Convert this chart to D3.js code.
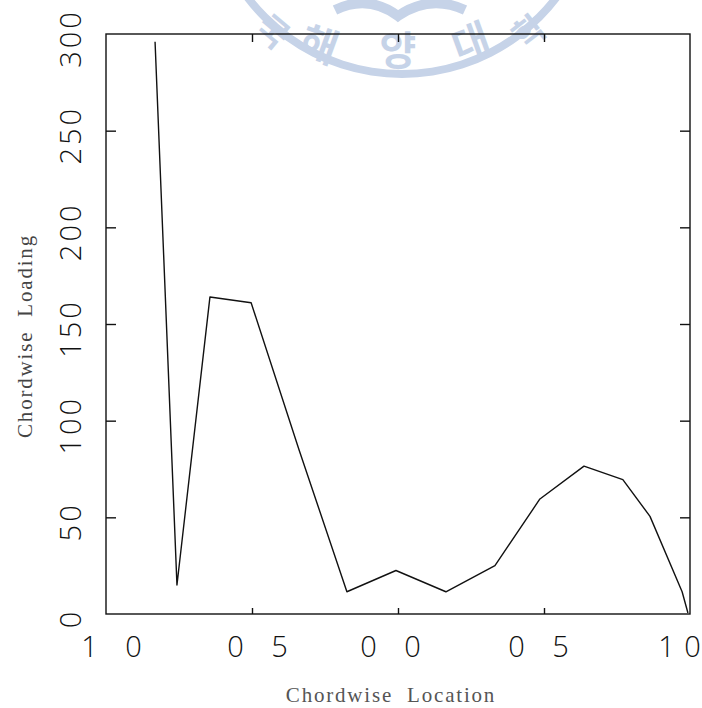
<!DOCTYPE html>
<html>
<head>
<meta charset="utf-8">
<script src="https://cdn.jsdelivr.net/npm/d3@7"></script>
<style>
  html, body { margin: 0; padding: 0; background: #fff; }
  svg { display: block; }
</style>
</head>
<body>
<svg id="chart" width="702" height="708"></svg>
<script>
// ---- data ----
const xValues = [-0.832, -0.757, -0.644, -0.503, -0.339, -0.175, -0.007, 0.164, 0.332, 0.486, 0.637, 0.770, 0.863, 0.973, 0.993];
const loading = [296, 15, 164, 161, 85, 11.5, 22.5, 11.5, 25, 59.5, 76.5, 69.5, 50.5, 11.5, 0.5];
const xTickValues = [-1, -0.5, 0, 0.5, 1];
const xTickLabels = ["1 0", "0 5", "0 0", "0 5", "1 0"];
const yTickValues = [0, 50, 100, 150, 200, 250, 300];
const yTickLabels = ["0", "50", "100", "150", "200", "250", "300"];
const xTitle = "Chordwise  Location";
const yTitle = "Chordwise  Loading";
const watermarkChars = ["국", "해", "양", "대", "학"];

// ---- layout ----
const svg = d3.select("#chart");
const pL = 106, pR = 690, pT = 34, pB = 614;
const x = d3.scaleLinear().domain([-1, 1]).range([pL, pR]);
const y = d3.scaleLinear().domain([0, 300]).range([pB, pT]);

// ---- watermark (light logo) ----
const wmColor = "#c6d3e8";
const wm = svg.append("g").attr("fill", "none").attr("stroke", wmColor);
const wcx = 402, wcy = -120, wr = 190;
wm.append("path")
  .attr("d", d3.arc()({innerRadius: wr, outerRadius: wr + 8, startAngle: Math.PI * 0.6, endAngle: Math.PI * 1.4}))
  .attr("transform", `translate(${wcx},${wcy})`)
  .attr("fill", wmColor).attr("stroke", "none");
wm.append("path").attr("d", "M335,10 Q368,-6 398,16 Q430,-6 465,10").attr("stroke-width", 10);
const wmPos = [[274, 30, 40, 34], [320, 42, 20, 40], [398, 48, 0, 40], [470, 40, -20, 40], [528, 30, -38, 34]];
svg.append("g").selectAll("text").data(watermarkChars).join("text")
  .attr("transform", (d, i) => `translate(${wmPos[i][0]},${wmPos[i][1]}) rotate(${wmPos[i][2]})`)
  .attr("text-anchor", "middle")
  .attr("dominant-baseline", "central")
  .attr("font-family", "Noto Sans CJK KR")
  .attr("font-weight", "bold")
  .attr("font-size", (d, i) => wmPos[i][3])
  .attr("fill", wmColor)
  .text(d => d);

// ---- frame ----
svg.append("rect")
  .attr("x", pL).attr("y", pT)
  .attr("width", pR - pL).attr("height", pB - pT)
  .attr("fill", "none").attr("stroke", "#111").attr("stroke-width", 1.4);

// ---- axes ----
const axisStyle = g => {
  g.select(".domain").remove();
  g.selectAll(".tick line").attr("stroke", "#111").attr("stroke-width", 1.4);
};

// left axis (ticks inward, labels rotated)
const yAxis = svg.append("g")
  .attr("transform", `translate(${pL},0)`)
  .call(d3.axisLeft(y).tickValues(yTickValues).tickSize(-10)
        .tickFormat((d, i) => yTickLabels[i]).tickPadding(0))
  .call(axisStyle);
yAxis.selectAll(".tick line").filter(d => d === 0 || d === 300).remove();
yAxis.selectAll(".tick text")
  .attr("x", 0).attr("dy", null)
  .attr("text-anchor", "middle")
  .attr("transform", "translate(-25,4) rotate(-90)")
  .attr("font-family", "Open Sans, DejaVu Sans, sans-serif")
  .attr("font-weight", 300)
  .attr("font-size", 29)
  .attr("letter-spacing", 3)
  .attr("fill", "#111");

// right axis (inward ticks, no labels)
svg.append("g")
  .attr("transform", `translate(${pR},0)`)
  .call(d3.axisRight(y).tickValues(yTickValues.slice(1, -1)).tickSize(-10).tickFormat(""))
  .call(axisStyle);

// bottom axis (inward short ticks, labels)
const xLabelShift = [5, 5, -8, -6, -11];
const xLabelSpacing = [10, 10, 10, 10, 1];
const xAxis = svg.append("g")
  .attr("transform", `translate(0,${pB})`)
  .call(d3.axisBottom(x).tickValues(xTickValues).tickSize(-6)
        .tickFormat((d, i) => xTickLabels[i]).tickPadding(0))
  .call(axisStyle);
xAxis.selectAll(".tick line").filter(d => d === -1 || d === 1).remove();
xAxis.selectAll(".tick text")
  .attr("y", 43).attr("dy", null)
  .attr("dx", (d, i) => xLabelShift[i] + xLabelSpacing[i] / 2)
  .style("white-space", "pre")
  .attr("font-family", "Open Sans, DejaVu Sans, sans-serif")
  .attr("font-weight", 300)
  .attr("font-size", 29)
  .attr("letter-spacing", (d, i) => xLabelSpacing[i])
  .attr("fill", "#111");

// top axis (inward ticks)
svg.append("g")
  .attr("transform", `translate(0,${pT})`)
  .call(d3.axisTop(x).tickValues(xTickValues.slice(1, -1)).tickSize(-8).tickFormat(""))
  .call(axisStyle);

// ---- titles ----
svg.append("text")
  .attr("x", 391).attr("y", 702)
  .attr("text-anchor", "middle")
  .style("white-space", "pre")
  .attr("font-family", "Liberation Serif, serif")
  .attr("font-size", 21)
  .attr("letter-spacing", 1.8)
  .attr("fill", "#555")
  .text(xTitle);

svg.append("text")
  .attr("transform", "translate(32,336) rotate(-90)")
  .attr("text-anchor", "middle")
  .style("white-space", "pre")
  .attr("font-family", "Liberation Serif, serif")
  .attr("font-size", 21)
  .attr("letter-spacing", 1.8)
  .attr("fill", "#444")
  .text(yTitle);

// ---- line ----
const pts = xValues.map((v, i) => [v, loading[i]]);
svg.append("path")
  .datum(pts)
  .attr("fill", "none")
  .attr("stroke", "#111")
  .attr("stroke-width", 1.4)
  .attr("stroke-linejoin", "round")
  .attr("d", d3.line().x(d => x(d[0])).y(d => y(d[1])));
</script>
</body>
</html>
